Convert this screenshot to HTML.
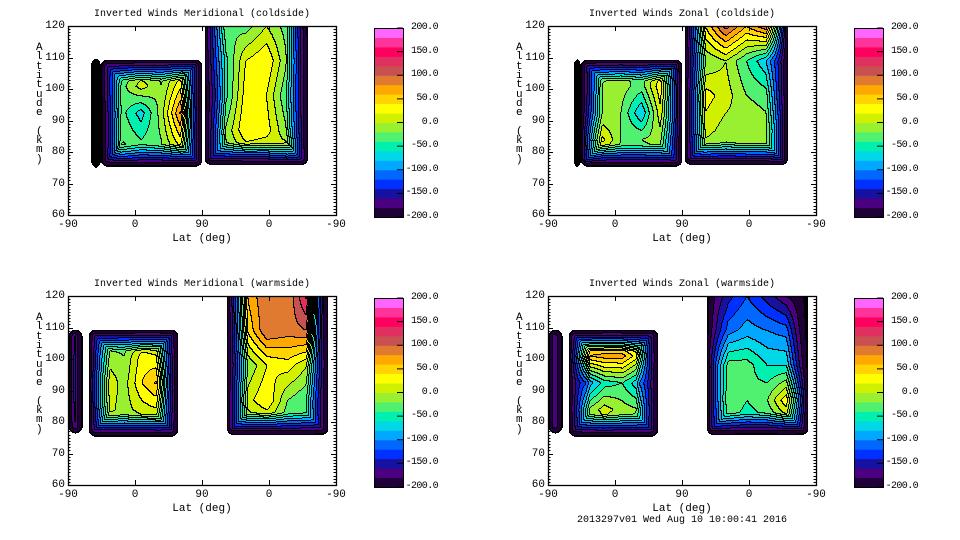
<!DOCTYPE html>
<html><head><meta charset="utf-8">
<style>
html,body{margin:0;padding:0;background:#fff;}
#root{position:relative;width:960px;height:540px;overflow:hidden;font-family:"Liberation Mono",monospace;color:#000;}
.t{position:absolute;font-size:11px;white-space:pre;line-height:12px;}
#plotsvg{position:absolute;left:0;top:0;}
</style></head>
<body>
<div id="root">
<svg id="plotsvg" width="960" height="540"></svg>
</div>
<script>
// colour levels (-200..200 step 20)
const levelColors=["#200038","#4a0080","#1810a0","#0030ff","#0068ff","#00a8ff","#00d8e8","#00f0b0","#50f070","#98f030","#d0f000","#ffff00","#ffd400","#ffa800","#e07a30","#c85050","#e03060","#ff0060","#ff3399","#ff66ff"];
const cbarLabels=["200.0","150.0","100.0","50.0","0.0","-50.0","-100.0","-150.0","-200.0"];
const cbarTickValues=[200,150,100,50,0,-50,-100,-150,-200];
const xTickLabels=["-90","0","90","0","-90"];
const yTickValues=[60,70,80,90,100,110,120];
const panelTitles=["Inverted Winds Meridional (coldside)","Inverted Winds Zonal (coldside)","Inverted Winds Meridional (warmside)","Inverted Winds Zonal (warmside)"];
// region extents in lat-track units (0..4 = -90,0,90,0,-90) and altitude; grids rows top->bottom
const p1Regions=[
 {t0:0.34,t1:0.48,a0:75,a1:110,top:false,grid:[[-200,-200],[-200,-200]]},
 {t0:0.48,t1:2.0,a0:75.5,a1:109.5,top:false,grid:[
  [-70,-50,-30,-30,-10,-30],[-60,-30,10,-20,40,-20],[-90,-30,-70,-10,90,-20],[-110,-20,-40,-20,40,-10],[-80,10,-30,-30,-20,-30]]},
 {t0:2.03,t1:3.58,a0:76,a1:120,top:true,grid:[
  [-20,-20,-30,0,-30,-80],[-40,-50,20,40,-20,-60],[-100,-50,30,20,-40,-60],[-60,-20,40,30,-20,-50],[-40,-30,-20,-20,40,-30]]}];
const p2Regions=[
 {t0:0.38,t1:0.48,a0:75,a1:110,top:false,grid:[[-200,-200],[-200,-200]]},
 {t0:0.48,t1:2.0,a0:75.5,a1:109.5,top:false,grid:[
  [-40,-30,-20,-30,0,-10],[-70,-20,-10,-30,40,60],[-30,-20,-20,-80,20,80],[90,30,-20,-20,-10,20],[40,-40,-40,-40,-40,-30]]},
 {t0:2.03,t1:3.58,a0:76,a1:120,top:true,grid:[
  [-20,40,110,60,100,160],[-60,-20,0,-40,-80,-30],[-30,30,10,-20,-30,-30],[-20,10,-10,0,-10,30],[-40,-30,-40,-30,-20,30]]}];
const p3Regions=[
 {t0:0.0,t1:0.21,a0:76.5,a1:109.5,top:false,grid:[[-40,-60],[40,-80],[30,-80],[-40,-80]]},
 {t0:0.30,t1:1.64,a0:75.5,a1:109.5,top:false,grid:[
  [-60,-50,-40,-40,-40,-60],[10,-10,-20,30,20,-30],[40,20,-10,40,70,-20],[20,10,-10,10,20,-30],[-40,-50,-40,-40,-40,-50]]},
 {t0:2.36,t1:3.88,a0:76,a1:120,top:true,grid:[
  [-40,60,100,80,150,-80],[-60,40,100,90,100,-80],[-60,-20,20,30,0,-40],[-30,10,40,-20,-40,-70],[-30,-30,-30,-40,-40,-60]]}];
const p4Regions=[
 {t0:0.0,t1:0.21,a0:76.5,a1:109.5,top:false,grid:[[-60,-80],[-20,-80],[-30,-80],[-60,-80]]},
 {t0:0.30,t1:1.64,a0:75.5,a1:109.5,top:false,grid:[
  [-60,-50,-50,-50,-60,-60],[40,60,70,70,20,-40],[-40,-100,-50,-40,-80,-30],[-30,-20,10,-10,-20,-40],[-70,-40,-30,-40,-40,-50]]},
 {t0:2.36,t1:3.88,a0:76,a1:120,top:true,grid:[
  [-120,-150,-120,-150,-180,-160],[-80,-110,-90,-100,-110,-140],[40,-30,-30,-60,-60,-90],[20,-20,-40,-20,40,80],[-20,-40,-60,-60,-40,-70]]}];
const panelRegions=[p1Regions,p2Regions,p3Regions,p4Regions];

const NS="http://www.w3.org/2000/svg";
const plotSvg=document.getElementById('plotsvg');
const rootDiv=document.getElementById('root');
const layout=[{x:68,y:26,cx:374},{x:548,y:26,cx:854},{x:68,y:296,cx:374},{x:548,y:296,cx:854}];
const PW=268,PH=189,CW=29;
function mk(tag,attrs){const el=document.createElementNS(NS,tag);for(const k in attrs)el.setAttribute(k,attrs[k]);plotSvg.appendChild(el);return el;}
function txt(s,x,y,align){const d=document.createElement('div');d.className='t';d.textContent=s;d.style.top=y+'px';
 if(align==='c'){d.style.left=(x-200)+'px';d.style.width='400px';d.style.textAlign='center';}
 else if(align==='r'){d.style.left=(x-200)+'px';d.style.width='200px';d.style.textAlign='right';}
 else d.style.left=x+'px';
 rootDiv.appendChild(d);return d;}
function bandOf(v){let b=Math.floor((v+200)/20);return Math.max(0,Math.min(19,b));}

function drawPanel(L,pi){
 const xs=function(t){return L.x+t/4*PW;}, ys=function(a){return L.y+PH-(a-60)/60*PH;};
 const band=new Int16Array(PW*PH);band.fill(-1);
 panelRegions[pi].forEach(function(R){
  const px0=xs(R.t0)-L.x,px1=xs(R.t1)-L.x,py0=ys(R.a1)-L.y,py1=ys(R.a0)-L.y;
  const g=R.grid,nr=g.length,nc=g[0].length,edge=22,rad=7;
  for(let py=Math.max(0,Math.floor(py0));py<Math.min(PH,py1);py++){
   for(let px=Math.max(0,Math.floor(px0));px<Math.min(PW,px1);px++){
    const u=Math.max(0,(px-px0)/(px1-px0))*(nc-1),w=Math.max(0,(py-py0)/(py1-py0))*(nr-1);
    const c0=Math.min(nc-2,Math.floor(u)),r0=Math.min(nr-2,Math.floor(w)),fu=u-c0,fw=w-r0;
    let v=g[r0][c0]*(1-fu)*(1-fw)+g[r0][c0+1]*fu*(1-fw)+g[r0+1][c0]*(1-fu)*fw+g[r0+1][c0+1]*fu*fw;
    const dxl=px-px0,dxr=px1-px,dyt=R.top?1e9:py-py0,dyb=py1-py;
    const dx=Math.min(dxl,dxr),dy=Math.min(dyt,dyb);
    let d;
    if(dx<rad&&dy<rad){d=rad-Math.hypot(rad-dx,rad-dy);}else d=Math.min(dx,dy);
    if(d<0)continue;
    const f=Math.min(1,d/edge);v=-212+(v+212)*f;
    band[py*PW+px]=v<-200?-2:bandOf(v);
   }
  }
 });
 const cls=new Int16Array(PW*PH);cls.fill(-1);
 for(let i=0;i<PW*PH;i++){
  const b=band[i];if(b===-1)continue;
  const x=i%PW;let line=(b===-2);
  if(!line&&x<PW-1&&band[i+1]>=0&&band[i+1]!==b)line=true;
  if(!line&&i+PW<PW*PH&&band[i+PW]>=0&&band[i+PW]!==b)line=true;
  cls[i]=line?20:b;
 }
 const paths=[];for(let k=0;k<=20;k++)paths.push([]);
 for(let y=0;y<PH;y++){
  let x=0;
  while(x<PW){
   const c=cls[y*PW+x];let x2=x+1;
   while(x2<PW&&cls[y*PW+x2]===c)x2++;
   if(c>=0)paths[c].push('M'+(L.x+x)+' '+(L.y+y)+'h'+(x2-x)+'v1h'+(x-x2)+'z');
   x=x2;
  }
 }
 paths.forEach(function(p,k){
  if(!p.length)return;
  const el=mk('path',{d:p.join(''),fill:k===20?'#000':levelColors[k],'shape-rendering':'crispEdges'});
  
  
 });
 const fr=mk('rect',{x:L.x+0.5,y:L.y+0.5,width:PW,height:PH,fill:'none',stroke:'#000','stroke-width':1.3});
 
 
 for(let a=60;a<=120;a++){const y=Math.round(ys(a))+0.5,len=(a%10===0)?5:2.5;
  mk('line',{x1:L.x,x2:L.x+len,y1:y,y2:y,stroke:'#000'});mk('line',{x1:L.x+PW,x2:L.x+PW-len,y1:y,y2:y,stroke:'#000'});}
 yTickValues.forEach(function(a){const q=txt(String(a),L.x-3,ys(a)-6,'r');
  
  
  q.style.fontSize='11px';});
 xTickLabels.forEach(function(s,i){const x=Math.round(xs(i))+0.5;
  mk('line',{x1:x,x2:x,y1:L.y+PH,y2:L.y+PH-5,stroke:'#000'});mk('line',{x1:x,x2:x,y1:L.y,y2:L.y+5,stroke:'#000'});
  const q=txt(s,xs(i),L.y+PH+4,'c');
  
  
  q.style.fontSize='11px';});
 const xt=txt('Lat (deg)',L.x+PW/2,L.y+PH+18,'c');
 
 
 xt.style.fontSize='11px';
 const tt=txt(panelTitles[pi],L.x+PW/2,L.y-17,'c');
 
 tt.style.fontSize='10px';
 
 'Altitude (km)'.split('').forEach(function(ch,k){const q=txt(ch,L.x-32,L.y+17+k*9.3,'');
  
  
  q.style.lineHeight='10px';});
 const bh=PH/levelColors.length;
 levelColors.forEach(function(c,k){const r=mk('rect',{x:L.cx,y:L.y+2+PH-(k+1)*bh,width:CW,height:bh+0.5,fill:c});
  
  });
 mk('rect',{x:L.cx+0.5,y:L.y+2.5,width:CW,height:PH,fill:'none',stroke:'#000'});
 cbarTickValues.forEach(function(v,k){const y=L.y+2+PH-(v+200)/400*PH;
  mk('line',{x1:L.cx+CW,x2:L.cx+CW-6,y1:y,y2:y,stroke:'#000'});
  const q=txt(cbarLabels[k],L.cx+64,y-6,'r');
  
  
  q.style.fontSize='10px';
  q.style.letterSpacing='-0.6px';});
}
layout.forEach(function(L,pi){try{drawPanel(L,pi);}catch(err){console.log(err);}});
const ft=txt('2013297v01 Wed Aug 10 10:00:41 2016',577,515,'');
ft.style.fontSize='10px';


</script>
</body></html>
